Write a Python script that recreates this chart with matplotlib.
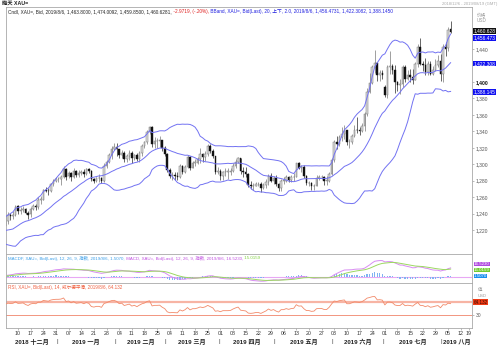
import matplotlib
matplotlib.use("Agg")
import matplotlib.pyplot as plt
import matplotlib.transforms as mtrans
import numpy as np
import pandas as pd

plt.rcParams['font.family'] = ['Liberation Sans', 'Noto Sans CJK SC']

# closes before the visible window (2018-10-01 .. 2018-11-30), only to warm up the indicators
warm_close = [1188, 1204, 1202, 1199, 1203, 1188, 1189, 1194, 1225, 1218, 1230, 1226,
              1222, 1227, 1227, 1222, 1231, 1232, 1232, 1233, 1228, 1223, 1215,
              1233, 1232, 1231, 1227, 1226, 1224, 1209, 1201, 1202, 1210, 1214, 1222,
              1223, 1222, 1227, 1227, 1223, 1222, 1214, 1221, 1225, 1222]

# daily candles, weekdays 2018-12-03 .. 2019-08-06 (one line per month)
opens = [1225, 1231, 1238, 1237, 1238, 1249, 1243, 1244, 1246, 1241, 1239, 1246, 1249, 1248, 1257, 1257, 1269, 1268, 1267, 1276, 1280,
         1282, 1282, 1284, 1294, 1286, 1289, 1284, 1292, 1287, 1289, 1291, 1288, 1294, 1292, 1282, 1280, 1283, 1283, 1280, 1298, 1303, 1311, 1319,
         1321, 1318, 1311, 1314, 1306, 1310, 1314, 1307, 1311, 1306, 1314, 1322, 1327, 1339, 1345, 1324, 1328, 1328, 1329, 1320,
         1313, 1293, 1286, 1287, 1286, 1285, 1298, 1291, 1297, 1309, 1295, 1302, 1302, 1306, 1312, 1309, 1313, 1322, 1316, 1310, 1290,
         1292, 1286, 1291, 1291, 1291, 1292, 1298, 1303, 1307, 1292, 1290, 1288, 1275, 1273, 1274, 1276, 1276, 1271, 1275, 1279, 1286, 1280,
         1283, 1276, 1271, 1280, 1280, 1284, 1281, 1284, 1285, 1301, 1296, 1297, 1286, 1277, 1277, 1273, 1274, 1283, 1284, 1284, 1280, 1280, 1288,
         1305, 1327, 1325, 1333, 1337, 1341, 1327, 1327, 1334, 1342, 1341, 1340, 1346, 1361, 1388, 1399, 1418, 1423, 1408, 1411,
         1394, 1384, 1418, 1419, 1415, 1400, 1396, 1397, 1418, 1403, 1408, 1406, 1402, 1422, 1443, 1422, 1421, 1412, 1422, 1410, 1414, 1421, 1426,
         1410, 1443, 1441, 1463.80]
highs = [1233, 1242, 1241, 1243, 1250, 1250, 1248, 1249, 1247, 1243, 1248, 1252, 1252, 1260, 1262, 1270, 1272, 1271, 1277, 1282, 1284,
         1285, 1287, 1298, 1295, 1292, 1291, 1295, 1293, 1293, 1293, 1294, 1295, 1296, 1293, 1283, 1285, 1288, 1284, 1302, 1305, 1314, 1322, 1326,
         1326, 1319, 1317, 1316, 1313, 1317, 1316, 1313, 1314, 1316, 1324, 1328, 1342, 1346, 1346, 1333, 1332, 1334, 1330, 1322,
         1314, 1295, 1290, 1291, 1290, 1300, 1299, 1299, 1311, 1310, 1304, 1306, 1309, 1320, 1314, 1316, 1325, 1324, 1318, 1310, 1297,
         1294, 1292, 1296, 1295, 1296, 1301, 1306, 1309, 1308, 1297, 1297, 1289, 1280, 1277, 1278, 1279, 1278, 1277, 1282, 1288, 1289, 1286,
         1287, 1277, 1282, 1285, 1287, 1286, 1287, 1289, 1302, 1303, 1299, 1299, 1287, 1280, 1278, 1276, 1287, 1287, 1287, 1286, 1286, 1291, 1307,
         1329, 1334, 1336, 1345, 1348, 1340, 1331, 1337, 1348, 1358, 1345, 1350, 1363, 1393, 1411, 1420, 1439, 1423, 1415, 1414,
         1396, 1421, 1437, 1422, 1420, 1401, 1403, 1420, 1421, 1415, 1416, 1416, 1424, 1446, 1453, 1426, 1429, 1426, 1426, 1419, 1428, 1433, 1434,
         1446, 1448, 1467, 1474.0092]
lows = [1222, 1228, 1232, 1234, 1237, 1240, 1240, 1242, 1239, 1233, 1236, 1244, 1244, 1246, 1252, 1256, 1266, 1263, 1266, 1274, 1278,
        1278, 1275, 1283, 1281, 1283, 1280, 1283, 1284, 1285, 1287, 1285, 1287, 1289, 1280, 1277, 1278, 1279, 1277, 1279, 1295, 1302, 1306, 1317,
        1310, 1308, 1308, 1303, 1303, 1305, 1302, 1305, 1304, 1303, 1310, 1320, 1325, 1337, 1321, 1320, 1320, 1321, 1316, 1310,
        1291, 1283, 1281, 1281, 1281, 1283, 1288, 1289, 1295, 1293, 1295, 1298, 1300, 1301, 1303, 1304, 1310, 1314, 1307, 1288, 1288,
        1281, 1281, 1286, 1282, 1287, 1290, 1296, 1301, 1288, 1285, 1285, 1272, 1270, 1269, 1273, 1273, 1266, 1270, 1271, 1275, 1278, 1276,
        1273, 1267, 1268, 1276, 1279, 1278, 1279, 1280, 1284, 1294, 1291, 1283, 1275, 1273, 1269, 1269, 1273, 1281, 1282, 1275, 1275, 1279, 1287,
        1303, 1318, 1322, 1328, 1331, 1323, 1320, 1324, 1333, 1338, 1336, 1339, 1341, 1359, 1386, 1398, 1411, 1401, 1401, 1404,
        1382, 1381, 1410, 1410, 1387, 1389, 1385, 1394, 1400, 1402, 1400, 1398, 1402, 1418, 1420, 1413, 1409, 1409, 1409, 1409, 1413, 1418, 1401,
        1400, 1432, 1437, 1459.85]
closes = [1231, 1238, 1237, 1238, 1248, 1243, 1244, 1246, 1241, 1238, 1246, 1249, 1248, 1257, 1257, 1269, 1268, 1267, 1276, 1280, 1282,
          1282, 1284, 1294, 1285, 1289, 1284, 1292, 1287, 1289, 1291, 1288, 1294, 1292, 1282, 1280, 1283, 1283, 1280, 1298, 1303, 1311, 1319, 1321,
          1318, 1311, 1314, 1306, 1310, 1314, 1307, 1311, 1306, 1314, 1322, 1327, 1339, 1345, 1324, 1328, 1328, 1329, 1320, 1313,
          1293, 1286, 1287, 1286, 1285, 1298, 1291, 1297, 1309, 1295, 1302, 1302, 1306, 1312, 1309, 1313, 1322, 1316, 1310, 1290, 1292,
          1286, 1291, 1291, 1291, 1292, 1298, 1303, 1307, 1292, 1290, 1288, 1275, 1273, 1274, 1276, 1276, 1271, 1275, 1279, 1286, 1280, 1283,
          1276, 1271, 1280, 1280, 1284, 1281, 1284, 1285, 1301, 1296, 1297, 1286, 1277, 1277, 1273, 1274, 1283, 1284, 1284, 1280, 1280, 1288, 1305,
          1327, 1325, 1333, 1337, 1341, 1327, 1327, 1334, 1342, 1341, 1340, 1346, 1361, 1388, 1399, 1418, 1423, 1408, 1411, 1409,
          1384, 1418, 1419, 1415, 1400, 1396, 1397, 1418, 1403, 1408, 1406, 1402, 1422, 1443, 1422, 1421, 1412, 1422, 1410, 1414, 1421, 1426, 1410,
          1443, 1440, 1463.6, 1460.6281]

# last values as printed on the chart
bb_last = [1456.4731, 1422.3082, 1388.1450]
macd_last = [1.5070, 16.5230, 15.0159]
rsi_last = 64.132
price_ticks = list(range(1220, 1441, 20))
month_names = ['2018 十二月', '2019 一月', '2019 二月', '2019 三月', '2019 四月',
               '2019 五月', '2019 六月', '2019 七月', '2019 八月']

warm_dates = pd.bdate_range('2018-10-01', '2018-11-30')
dates = pd.bdate_range('2018-12-03', '2019-08-06')
assert len(dates) == len(closes) == len(opens) == len(highs) == len(lows)
axis_days = pd.bdate_range('2018-10-01', '2019-08-30')
xpos = {d: i for i, d in enumerate(axis_days)}

close_all = pd.Series(warm_close + closes, index=warm_dates.append(dates))
x_all = np.array([xpos[d] for d in close_all.index])
x = np.array([xpos[d] for d in dates])
o, h, l, c = map(np.array, (opens, highs, lows, closes))

# indicators
mid = close_all.rolling(20).mean()
sd = close_all.rolling(20).std(ddof=0)
upper, lower = mid + 2 * sd, mid - 2 * sd
macd = close_all.ewm(span=12, adjust=False).mean() - close_all.ewm(span=26, adjust=False).mean()
signal = macd.ewm(span=9, adjust=False).mean()
hist = macd - signal
delta = close_all.diff()
gain = delta.clip(lower=0).ewm(alpha=1 / 14, adjust=False).mean()
loss = (-delta.clip(upper=0)).ewm(alpha=1 / 14, adjust=False).mean()
rsi = 100 - 100 / (1 + gain / loss)

W, H = 500, 352
fig = plt.figure(figsize=(W / 100, H / 100), dpi=100)
L, R = 6, 472
ax = fig.add_axes([L / W, 1 - 254 / H, (R - L) / W, (254 - 7) / H])
axm = fig.add_axes([L / W, 1 - 283 / H, (R - L) / W, 29 / H], sharex=ax)
axr = fig.add_axes([L / W, 1 - 328 / H, (R - L) / W, 45 / H], sharex=ax)

grey = '#a8a8a8'
for a in (ax, axm, axr):
    for s in a.spines.values():
        s.set_color(grey)
        s.set_linewidth(0.6)
    a.tick_params(axis='x', bottom=False, labelbottom=False)
    a.yaxis.tick_right()
    a.tick_params(axis='y', length=1.5, width=0.4, color='#888888', pad=1,
                  labelsize=3.6, labelcolor='#555555')

# candles
up = c >= o
ax.vlines(x, l, h, color=np.where(up, '#6a6a6a', '#111111'), lw=0.45, zorder=2)
body = np.where(np.abs(c - o) < 0.6, 0.6, c - o)
ax.bar(x[up], body[up], bottom=o[up], width=0.62, color='#dcdcdc',
       edgecolor='#777777', linewidth=0.35, zorder=3)
ax.bar(x[~up], body[~up], bottom=o[~up], width=0.62, color='#111111',
       edgecolor='#111111', linewidth=0.3, zorder=3)
bb_col = '#7272f2'
for band in (upper, mid, lower):
    ax.plot(x_all, band.values, color=bb_col, lw=0.7, zorder=4)

x0 = xpos[pd.Timestamp('2018-12-03')] + 0.26
x1 = xpos[pd.Timestamp('2019-08-19')] - 0.55
ax.set_xlim(x0, x1)
ax.set_ylim(1191, 1491)
ax.set_yticks(price_ticks)
ax.set_yticklabels([f'{v:,}' for v in price_ticks])
for t in ax.get_yticklabels():
    if t.get_text() == '1,400':
        t.set_fontweight('bold')
        t.set_color('#111111')
    if t.get_text() == '1,420':
        t.set_visible(False)   # hidden behind the mid-band tag in the original

right = mtrans.blended_transform_factory(ax.transAxes, ax.transData)


def tag(a, y, s, fc, tc='white', trans=None, size=3.5):
    a.text(1.004, y, s, transform=trans, fontsize=size, color=tc, va='center', ha='left',
           bbox=dict(boxstyle='square,pad=0.08', fc=fc, ec='none'), zorder=10, clip_on=False)


# the two top tags are stacked so they do not cover each other
tag(ax, 0.904, f'{c[-1]:,.3f}', '#111111', trans=ax.transAxes)
tag(ax, 0.874, f'{bb_last[0]:,.3f}', '#1010f0', trans=ax.transAxes)
tag(ax, bb_last[1], f'{bb_last[1]:,.3f}', '#1010f0', trans=right)
tag(ax, bb_last[2], f'{bb_last[2]:,.3f}', '#1010f0', trans=right)
ax.text(1.01, 0.957, '价格\nUSD', transform=ax.transAxes, fontsize=3.3, color='#999999',
        va='center', ha='left', linespacing=1.1)


def rainbow(a, xx, yy, parts, size):
    fig.canvas.draw()
    r = fig.canvas.get_renderer()
    t = a.transAxes
    for s, col in parts:
        txt = a.text(xx, yy, s, color=col, transform=t, fontsize=size, va='center')
        ext = txt.get_window_extent(renderer=r)
        t = mtrans.offset_copy(txt.get_transform(), x=ext.width, units='dots')


rainbow(ax, 0.005, 0.982, [
    (f'Cndl, XAU=, Bid, 2019/8/6, {o[-1]:,.4f}, {h[-1]:,.4f}, {l[-1]:,.4f}, {c[-1]:,.4f},', '#222222'),
    (' -2.9719, (-.20%),', '#e02020'),
    (f' BBand, XAU=, Bid(Last), 20, 上下, 2.0, 2019/8/6, {bb_last[0]:,.4f}, {bb_last[1]:,.4f}, {bb_last[2]:,.4f}', '#2020e0'),
], 3.4)

# MACD panel
axm.bar(x_all, hist.values, width=0.5, color='#80b4f2', zorder=2)
axm.axhline(0, color='#e8a8f4', lw=0.8, zorder=1)
axm.plot(x_all, macd.values, color='#d88cf2', lw=0.7, zorder=3)
axm.plot(x_all, signal.values, color='#9cd860', lw=0.7, zorder=3)
axm.set_ylim(-11, 42)
axm.set_yticks([])
rainbow(axm, 0.005, 0.86, [
    (f'MACDF, XAU=, Bid(Last), 12, 26, 9, 指数, 2019/8/6, {macd_last[0]:.4f},', '#3a9ee8'),
    (f' MACD, XAU=, Bid(Last), 12, 26, 9, 指数, 2019/8/6, {macd_last[1]:.4f},', '#c050e0'),
    (f' {macd_last[2]:.4f}', '#80d040'),
], 3.2)
tag(axm, 0.66, f'{macd_last[1]:.4f}', '#b048e0', trans=axm.transAxes, size=3.2)
tag(axm, 0.45, f'{macd_last[2]:.4f}', '#70cc30', trans=axm.transAxes, size=3.2)
tag(axm, 0.24, f'{macd_last[0]:.4f}', '#1890f0', trans=axm.transAxes, size=3.2)

# RSI panel
axr.axhline(70, color='#f7b4a4', lw=1.6, zorder=1)
axr.axhline(30, color='#f29580', lw=0.7, zorder=1)
axr.plot(x_all, rsi.values, color='#f28a6a', lw=0.6, zorder=3)
axr.set_ylim(-10, 128.5)
axr.set_yticks([30])
axr.set_yticklabels(['30'])
axr.text(0.005, 0.9, f'RSI, XAU=, Bid(Last), 14, 威尔德平滑, 2019/8/6, {rsi_last}',
         transform=axr.transAxes, fontsize=3.3, color='#f06040', va='center')
axr.text(1.012, 0.84, '值', transform=axr.transAxes, fontsize=3.2, color='#999999', va='center')
axr.text(1.012, 0.72, 'USD', transform=axr.transAxes, fontsize=3.0, color='#999999', va='center')
tag(axr, 0.575, f'{rsi_last:.3f}', '#f03a14', tc='#3a0a00', trans=axr.transAxes, size=3.3)

# date axis: Mondays with day numbers, month names below
mondays = [d for d in axis_days if d.weekday() == 0
           and pd.Timestamp('2018-12-10') <= d <= pd.Timestamp('2019-08-19')]
tick_x = [min(xpos[d], x1 - 1.3) for d in mondays]
axr.set_xticks(tick_x)
axr.set_xticklabels([d.strftime('%d') for d in mondays])
axr.tick_params(axis='x', bottom=True, labelbottom=True, length=1.5, width=0.4,
                color='#888888', pad=1, labelsize=3.8, labelcolor='#333333')

bounds = []
for m in pd.period_range('2019-01', '2019-08', freq='M'):
    first = axis_days[(axis_days.year == m.year) & (axis_days.month == m.month)][0]
    bounds.append(xpos[first] - 0.6)
edges = [x0] + bounds + [x1]
bt = mtrans.blended_transform_factory(axr.transData, axr.transAxes)
for i, name in enumerate(month_names):
    axr.text((edges[i] + edges[i + 1]) / 2, -0.31, name, transform=bt, ha='center', va='center',
             fontsize=4.4, fontweight='bold', color='#222222')
for b in bounds:
    axr.text(b, -0.31, '|', transform=bt, ha='center', va='center', fontsize=4.4, color='#444444')

# title row
fig.text(0.004, 1 - 3.5 / H, '晦天 XAU=', fontsize=3.8, fontweight='bold', va='center', color='#222222')
fig.text(0.994, 1 - 4 / H, '2018/12/6 - 2019/08/19 (GMT)', fontsize=3.0, ha='right',
         va='center', color='#aaaaaa')

fig.savefig('out.png', dpi=100)
